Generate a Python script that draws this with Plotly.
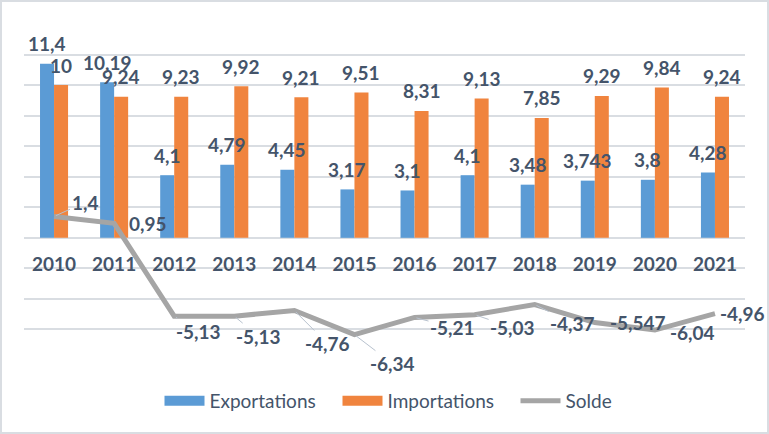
import plotly.graph_objects as go

years = ["2010", "2011", "2012", "2013", "2014", "2015", "2016", "2017", "2018", "2019", "2020", "2021"]
exportations = [11.4, 10.19, 4.1, 4.79, 4.45, 3.17, 3.1, 4.1, 3.48, 3.743, 3.8, 4.28]
importations = [10, 9.24, 9.23, 9.92, 9.21, 9.51, 8.31, 9.13, 7.85, 9.29, 9.84, 9.24]
solde = [1.4, 0.95, -5.13, -5.13, -4.76, -6.34, -5.21, -5.03, -4.37, -5.547, -6.04, -4.96]

# label placement for Solde (pixel offsets from the point, leader line flag)
solde_offsets = [(31, -14, True), (34, 0, False), (24, 15, True), (24, 20, True),
                 (33, 33, True), (38, 29, True), (38, 10, True), (38, 13, True),
                 (38, 19, True), (43, 0, False), (38, 2, False), (28, 0, False)]

def fr(v):
    return str(v).replace(".", ",")

TXT = "#44546A"
FONT = "Lato"
FS = 19
W, H = 769, 434
ML, MR, MT, MB = 24, 24, 24, 74
BW = 14 / 60
C_EXP = "#5B9BD5"
C_IMP = "#F0843E"
C_SOL = "#A5A5A5"

xs = list(range(len(years)))

fig = go.Figure()
fig.add_trace(go.Bar(name="Exportations", x=xs, y=exportations, width=BW, offset=-BW,
                     marker=dict(color=C_EXP, line=dict(width=0)),
                     legendgroup="e", showlegend=False))
fig.add_trace(go.Bar(name="Importations", x=xs, y=importations, width=BW, offset=0,
                     marker=dict(color=C_IMP, line=dict(width=0)),
                     legendgroup="i", showlegend=False))
fig.add_trace(go.Scatter(name="Solde", x=xs, y=solde, mode="lines",
                         line=dict(color=C_SOL, width=5), legendgroup="s", showlegend=False))
# legend entries (wide swatches like the original)
fig.add_trace(go.Scatter(name="Exportations", x=[None], y=[None], mode="lines",
                         line=dict(color=C_EXP, width=11), legendgroup="e"))
fig.add_trace(go.Scatter(name="Importations", x=[None], y=[None], mode="lines",
                         line=dict(color=C_IMP, width=11), legendgroup="i"))
fig.add_trace(go.Scatter(name="Solde", x=[None], y=[None], mode="lines",
                         line=dict(color=C_SOL, width=5), legendgroup="s"))

ann = []
lf = dict(family=FONT, size=FS, color=TXT, weight="bold")
for i, v in enumerate(exportations):
    ann.append(dict(x=i - BW / 2, y=v, xref="x", yref="y", text=fr(v), showarrow=False,
                    yshift=20, font=lf))
for i, v in enumerate(importations):
    ann.append(dict(x=i + BW / 2, y=v, xref="x", yref="y", text=fr(v), showarrow=False,
                    yshift=20, font=lf))
for i, v in enumerate(solde):
    ax, ay, lead = solde_offsets[i]
    if lead:
        ann.append(dict(x=i, y=v, xref="x", yref="y", text=fr(v), showarrow=True,
                        arrowhead=0, arrowwidth=1, arrowcolor="#B8C2CE", ax=ax, ay=ay,
                        standoff=2, font=lf))
    else:
        ann.append(dict(x=i, y=v, xref="x", yref="y", text=fr(v), showarrow=False,
                        xshift=ax, yshift=-ay, font=lf))

pw = W - ML - MR
ph = H - MT - MB
fig.add_shape(type="rect", xref="paper", yref="paper",
              x0=(-ML + 1) / pw, x1=1 + (MR - 1) / pw,
              y0=(-MB + 1) / ph, y1=1 + (MT - 1) / ph,
              line=dict(color="#D9DDE2", width=2), layer="below")

fig.update_layout(
    width=W, height=H,
    margin=dict(l=ML, r=MR, t=MT, b=MB, autoexpand=False),
    paper_bgcolor="white", plot_bgcolor="white",
    barmode="overlay",
    showlegend=True,
    legend=dict(orientation="h", x=(159.5 - ML) / pw, xanchor="left", y=-41 / ph,
                yanchor="middle",
                font=dict(family=FONT, size=FS, color=TXT), itemwidth=40,
                entrywidth=123, traceorder="normal"),
    annotations=ann,
    xaxis=dict(range=[-0.5, 11.5], tickmode="array", tickvals=xs, ticktext=years,
               showgrid=False, zeroline=False, showline=False, ticks="",
               anchor="free", position=8 / 22, ticklabelstandoff=13,
               tickfont=dict(family=FONT, size=FS, color=TXT, weight="bold")),
    yaxis=dict(range=[-8, 14], dtick=2, showticklabels=False, showgrid=True,
               gridcolor="#D9DDE2", gridwidth=1.5, zeroline=True, zerolinecolor="#D9DDE2",
               zerolinewidth=1.5, showline=False),
)

fig.write_html("out.html", config={"displayModeBar": False},
               post_script="document.body.style.margin='0px';")
